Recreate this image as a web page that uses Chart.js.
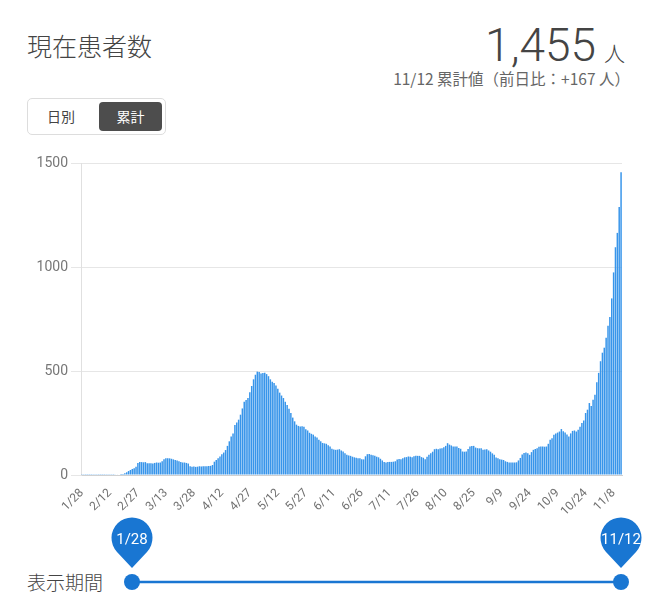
<!DOCTYPE html>
<html>
<head>
<meta charset="utf-8">
<script src="https://cdn.jsdelivr.net/npm/chart.js"></script>
<style>
  html, body { margin: 0; padding: 0; background: #fff; }
  body { width: 657px; height: 599px; position: relative; overflow: hidden;
         font-family: Roboto, "Noto Sans CJK JP", sans-serif; color: #444; }
  .abs { position: absolute; }
  #title { left: 27px; top: 27px; font-size: 25px; font-family: "Noto Sans CJK JP", sans-serif; font-weight: 300; color: #444; }
  #total { right: 32px; top: 18px; font-size: 46px; font-weight: 300; color: #444; white-space: nowrap; }
  #total span { font-size: 21px; font-family: "Noto Sans CJK JP", sans-serif; margin-left: 8px; }
  #sub { right: 27px; top: 67px; font-size: 15.5px; color: #666; font-family: "Noto Sans CJK JP", sans-serif; white-space: nowrap; }
  #toggle { left: 27px; top: 98px; width: 137px; height: 35px; border: 1px solid #ddd; border-radius: 5px; }
  #daily { left: 19px; top: 7px; font-size: 14px; font-family: "Noto Sans CJK JP", sans-serif; color: #444; }
  #cum { left: 71px; top: 3px; width: 63px; height: 29px; background: #4d4d4d; border-radius: 4px;
         color: #fff; font-size: 14px; font-family: "Noto Sans CJK JP", sans-serif; text-align: center; line-height: 29px; }
  #chart { left: 0; top: 148px; }
  #period { left: 27px; top: 568px; font-size: 19px; font-family: "Noto Sans CJK JP", sans-serif; font-weight: 300; color: #444; }
</style>
</head>
<body>
<div id="title" class="abs">現在患者数</div>
<div id="total" class="abs">1,455<span>人</span></div>
<div id="sub" class="abs">11/12 累計値（前日比：+167 人）</div>
<div id="toggle" class="abs">
  <div id="daily" class="abs">日別</div>
  <div id="cum" class="abs">累計</div>
</div>
<canvas id="chart" class="abs" width="635" height="382"></canvas>
<div id="period" class="abs">表示期間</div>
<svg class="abs" style="left:0;top:500px" width="657" height="99">
  <line x1="132" y1="82" x2="621" y2="82" stroke="#1976d2" stroke-width="2.5"/>
  <circle cx="132" cy="82" r="8" fill="#1976d2"/>
  <circle cx="621" cy="82" r="8" fill="#1976d2"/>
  <path d="M132,68 L117,52 A20.5,20.5 0 1 1 147,52 Z" fill="#1976d2"/>
  <text x="132" y="44" fill="#fff" font-size="15" font-family="Roboto" text-anchor="middle">1/28</text>
  <path d="M621,68 L606,52 A20.5,20.5 0 1 1 636,52 Z" fill="#1976d2"/>
  <text x="621" y="44" fill="#fff" font-size="15" font-family="Roboto" text-anchor="middle">11/12</text>
</svg>
<script>
// 現在患者数 (累計) 1/28 - 11/12
var jan = [1, 1, 1, 1];
var feb = [1, 1, 1, 1, 1, 1, 1, 1, 1, 1, 1, 1, 1, 1, 2, 2, 3, 5, 5, 9, 13, 19, 24, 29, 32, 40, 58, 62, 62];
var mar = [61, 62, 57, 56, 56, 55, 58, 60, 59, 60, 66, 76, 80, 81, 80, 78, 75, 72, 70, 66, 63, 60, 60, 58, 55, 42, 40, 41, 39, 40, 42];
var apr = [41, 42, 42, 42, 43, 44, 48, 64, 72, 80, 89, 100, 108, 120, 140, 162, 185, 200, 240, 252, 266, 290, 320, 352, 360, 370, 398, 428, 460, 482];
var may = [497, 495, 488, 490, 491, 485, 475, 460, 448, 442, 430, 415, 396, 382, 370, 352, 336, 318, 298, 276, 258, 242, 236, 233, 234, 232, 220, 214, 203, 198, 194];
var jun = [185, 180, 170, 162, 154, 152, 150, 143, 137, 126, 123, 121, 122, 124, 118, 113, 104, 97, 94, 92, 88, 85, 83, 81, 80, 76, 75, 90, 100, 101];
var jul = [97, 95, 92, 88, 85, 78, 70, 62, 60, 62, 63, 63, 64, 66, 74, 77, 76, 80, 85, 86, 89, 88, 85, 90, 92, 92, 92, 86, 83, 76, 88];
var aug = [97, 104, 112, 124, 126, 124, 128, 129, 134, 140, 153, 146, 142, 137, 137, 137, 130, 126, 113, 112, 113, 125, 137, 140, 140, 132, 129, 128, 129, 121, 122];
var sep = [124, 118, 112, 104, 97, 84, 80, 76, 74, 72, 66, 63, 60, 60, 60, 60, 61, 70, 82, 98, 106, 108, 104, 97, 110, 121, 125, 129, 136, 137];
var oct = [137, 136, 137, 150, 170, 177, 194, 199, 204, 209, 221, 210, 204, 195, 185, 200, 212, 214, 209, 217, 232, 250, 262, 298, 314, 346, 332, 362, 386, 446, 491];
var nov = [547, 588, 612, 660, 717, 760, 849, 974, 1095, 1164, 1288, 1455];

var tickLabels = ['1/28', '2/12', '2/27', '3/13', '3/28', '4/12', '4/27', '5/12', '5/27', '6/11',
                  '6/26', '7/11', '7/26', '8/10', '8/25', '9/9', '9/24', '10/9', '10/24', '11/8'];
var yTicks = [0, 500, 1000, 1500];

var values = [].concat(jan, feb, mar, apr, may, jun, jul, aug, sep, oct, nov);

// 日付ラベル
var labels = [];
var d = new Date(2020, 0, 28);
for (var i = 0; i < values.length; i++) {
  labels.push((d.getMonth() + 1) + '/' + d.getDate());
  d.setDate(d.getDate() + 1);
}

var ctx = document.getElementById('chart').getContext('2d');
var chart = new Chart(ctx, {
  type: 'bar',
  data: {
    labels: labels,
    datasets: [{
      data: values,
      backgroundColor: '#3895ea',
      borderWidth: 0,
      barPercentage: 1,
      categoryPercentage: 0.8
    }]
  },
  options: {
    responsive: false,
    animation: false,
    layout: { padding: { top: 15, right: 13, left: 0, bottom: 0 } },
    plugins: { legend: { display: false }, tooltip: { enabled: false } },
    scales: {
      x: {
        grid: { display: false },
        border: { display: true, color: '#d0d0d0' },
        afterFit: function (scale) { scale.height = 55; },
        ticks: {
          autoSkip: false,
          minRotation: 45,
          maxRotation: 45,
          color: '#707070',
          font: { family: 'Roboto', size: 12 },
          callback: function (val, idx) {
            return idx % 15 === 0 ? tickLabels[idx / 15] : '';
          }
        }
      },
      y: {
        min: 0,
        max: 1500,
        afterFit: function (scale) { scale.width = 81; },
        afterBuildTicks: function (scale) {
          scale.ticks = yTicks.map(function (v) { return { value: v }; });
        },
        grid: { color: '#e6e6e6', tickLength: 10 },
        border: { display: true, color: '#e0e0e0' },
        ticks: {
          color: '#777',
          padding: 3,
          font: { family: 'Roboto', size: 14 },
          callback: function (v) { return String(v); }
        }
      }
    }
  }
});
</script>
</body>
</html>
